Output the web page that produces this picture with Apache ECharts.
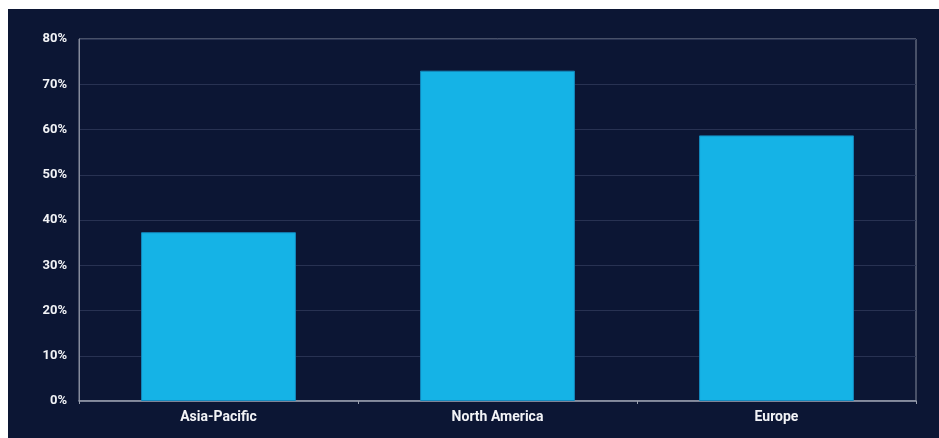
<!DOCTYPE html>
<html>
<head>
<meta charset="utf-8">
<script src="https://cdn.jsdelivr.net/npm/echarts@6/dist/echarts.min.js"></script>
<style>
  html, body { margin: 0; padding: 0; background: #ffffff; }
  #chart { width: 939px; height: 438px; }
</style>
</head>
<body>
<div id="chart"></div>
<script>
// region categories and share values (%)
var regions = ['Asia-Pacific', 'North America', 'Europe'];
var shares = [37.3, 73.0, 58.7];
var yTicks = [0, 10, 20, 30, 40, 50, 60, 70, 80];

var myChart = echarts.init(document.getElementById('chart'));

var option = {
    backgroundColor: '#ffffff',
    animation: false,
    graphic: [{
        type: 'rect',
        left: 8,
        top: 9,
        shape: { width: 931, height: 429 },
        style: { fill: '#0c1634' },
        z: -10
    }],
    grid: {
        left: 79,
        right: 23,
        top: 39,
        bottom: 37,
        show: true,
        borderColor: '#858b9c',
        borderWidth: 1
    },
    xAxis: {
        type: 'category',
        data: regions,
        axisLine: { lineStyle: { color: '#9aa0ae', width: 1.5 } },
        axisTick: { show: true, length: 3, lineStyle: { color: '#9aa0ae' } },
        axisLabel: {
            color: '#f2f3f6',
            fontFamily: 'Roboto',
            fontWeight: 'bold',
            fontSize: 14,
            margin: 9
        }
    },
    yAxis: {
        type: 'value',
        min: yTicks[0],
        max: yTicks[yTicks.length - 1],
        interval: 10,
        axisLine: { show: true, lineStyle: { color: '#858b9c' } },
        axisTick: { show: false },
        splitLine: { lineStyle: { color: '#283252', width: 1 } },
        axisLabel: {
            color: '#f2f3f6',
            fontFamily: 'Roboto',
            fontWeight: 'bold',
            fontSize: 13,
            margin: 12,
            formatter: '{value}%'
        }
    },
    series: [{
        type: 'bar',
        data: shares,
        barWidth: '55.5%',
        itemStyle: {
            color: '#15b3e6',
            borderColor: '#1489bd',
            borderWidth: 1
        }
    }]
};
myChart.setOption(option);
</script>
</body>
</html>
